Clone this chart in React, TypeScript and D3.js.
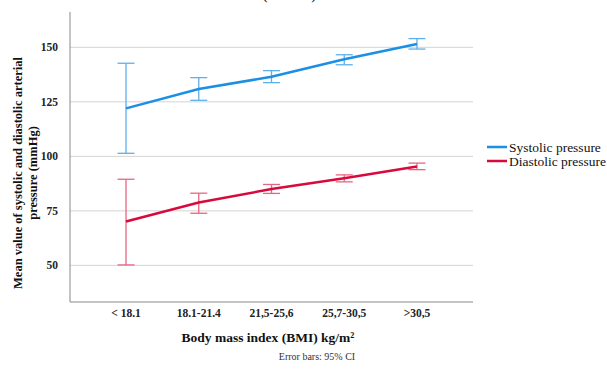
import React, { useEffect, useRef } from "react";
import * as d3 from "d3";

const categories = ["< 18.1", "18.1-21.4", "21,5-25,6", "25,7-30,5", ">30,5"];
const systolicMean = [122.0, 130.9, 136.5, 144.5, 151.5];
const systolicLow = [101.4, 125.7, 133.8, 142.0, 149.2];
const systolicHigh = [142.7, 136.1, 139.3, 146.6, 154.0];
const diastolicMean = [70.1, 78.8, 85.0, 90.0, 95.3];
const diastolicLow = [50.2, 73.9, 83.0, 88.3, 93.9];
const diastolicHigh = [89.5, 83.1, 87.1, 91.5, 96.9];
const yTicks = [50, 75, 100, 125, 150];

const seriesList = [
  { name: "Systolic pressure", mean: systolicMean, low: systolicLow, high: systolicHigh, color: "#1b8fe3", barColor: "#5cb0ec" },
  { name: "Diastolic pressure", mean: diastolicMean, low: diastolicLow, high: diastolicHigh, color: "#d8093d", barColor: "#e56682" },
];

const FONT = "'Liberation Serif', 'Times New Roman', serif";

const App = () => {
  const ref = useRef(null);

  useEffect(() => {
    const svg = d3.select(ref.current);
    svg.selectAll("*").remove();

    const left = 70;
    const right = 473;
    const top = 12;
    const bottom = 302;

    const x = d3.scalePoint().domain(categories).range([left, right]).padding(0.77);
    const y = d3.scaleLinear().domain([33.2, 166.2]).range([bottom, top]);

    // partly visible title
    svg.append("text").attr("x", 265).attr("y", -1).attr("font-family", FONT)
      .attr("font-size", 16).attr("text-anchor", "middle").text("(");
    svg.append("text").attr("x", 314).attr("y", -1).attr("font-family", FONT)
      .attr("font-size", 16).attr("text-anchor", "middle").text(")");

    // gridlines
    yTicks.forEach((t) => {
      svg.append("line")
        .attr("x1", left).attr("x2", right)
        .attr("y1", y(t)).attr("y2", y(t))
        .attr("stroke", "#d4d4d4").attr("stroke-width", 1);
      svg.append("text")
        .attr("x", 58).attr("y", y(t)).attr("dy", "0.35em")
        .attr("text-anchor", "end")
        .attr("font-family", FONT).attr("font-size", 11.5).attr("font-weight", "bold")
        .attr("fill", "#222")
        .text(t);
    });

    // axes
    svg.append("line").attr("x1", left).attr("x2", left).attr("y1", top).attr("y2", bottom)
      .attr("stroke", "#888").attr("stroke-width", 1);
    svg.append("line").attr("x1", left).attr("x2", right).attr("y1", bottom).attr("y2", bottom)
      .attr("stroke", "#888").attr("stroke-width", 1);

    categories.forEach((c) => {
      svg.append("text")
        .attr("x", x(c)).attr("y", 313).attr("dy", "0.35em")
        .attr("text-anchor", "middle")
        .attr("font-family", FONT).attr("font-size", 11.5).attr("font-weight", "bold")
        .attr("fill", "#222")
        .text(c);
    });

    svg.append("text")
      .attr("x", 268).attr("y", 337).attr("dy", "0.35em")
      .attr("text-anchor", "middle")
      .attr("font-family", FONT).attr("font-size", 13.5).attr("font-weight", "bold")
      .attr("fill", "#111")
      .text("Body mass index (BMI) kg/m²");

    svg.append("text")
      .attr("x", 317).attr("y", 356).attr("dy", "0.35em")
      .attr("text-anchor", "middle")
      .attr("font-family", FONT).attr("font-size", 10)
      .attr("fill", "#333")
      .text("Error bars: 95% CI");

    const yTitle = svg.append("text")
      .attr("transform", "translate(18,173) rotate(-90)")
      .attr("text-anchor", "middle")
      .attr("font-family", FONT).attr("font-size", 12.5).attr("font-weight", "bold")
      .attr("fill", "#111");
    yTitle.append("tspan").attr("x", 0).attr("dy", "0.35em")
      .text("Mean value of systolic and diastolic arterial");
    yTitle.append("tspan").attr("x", 0).attr("dy", 15).text("pressure (mmHg)");

    const line = d3.line<number>()
      .x((_, i) => x(categories[i]))
      .y((d) => y(d));

    const cap = 8.5;
    seriesList.forEach((s, si) => {
      categories.forEach((c, i) => {
        const cx = x(c);
        svg.append("line").attr("x1", cx).attr("x2", cx)
          .attr("y1", y(s.low[i])).attr("y2", y(s.high[i]))
          .attr("stroke", s.barColor).attr("stroke-width", 1.3);
        [s.low[i], s.high[i]].forEach((v) => {
          svg.append("line").attr("x1", cx - cap).attr("x2", cx + cap)
            .attr("y1", y(v)).attr("y2", y(v))
            .attr("stroke", s.barColor).attr("stroke-width", 1.3);
        });
      });
      svg.append("path")
        .attr("d", line(s.mean))
        .attr("fill", "none")
        .attr("stroke", s.color)
        .attr("stroke-width", 2.5);

      const ly = 147 + si * 14;
      svg.append("line").attr("x1", 487).attr("x2", 507).attr("y1", ly).attr("y2", ly)
        .attr("stroke", s.color).attr("stroke-width", 2.5);
      svg.append("text").attr("x", 509).attr("y", ly).attr("dy", "0.35em")
        .attr("font-family", FONT).attr("font-size", 13.5).attr("fill", "#111")
        .text(s.name);
    });
  }, []);

  return (
    <svg
      ref={ref}
      width={607}
      height={369}
      style={{ position: "absolute", left: 0, top: 0, background: "#fff" }}
    />
  );
};

export default App;
